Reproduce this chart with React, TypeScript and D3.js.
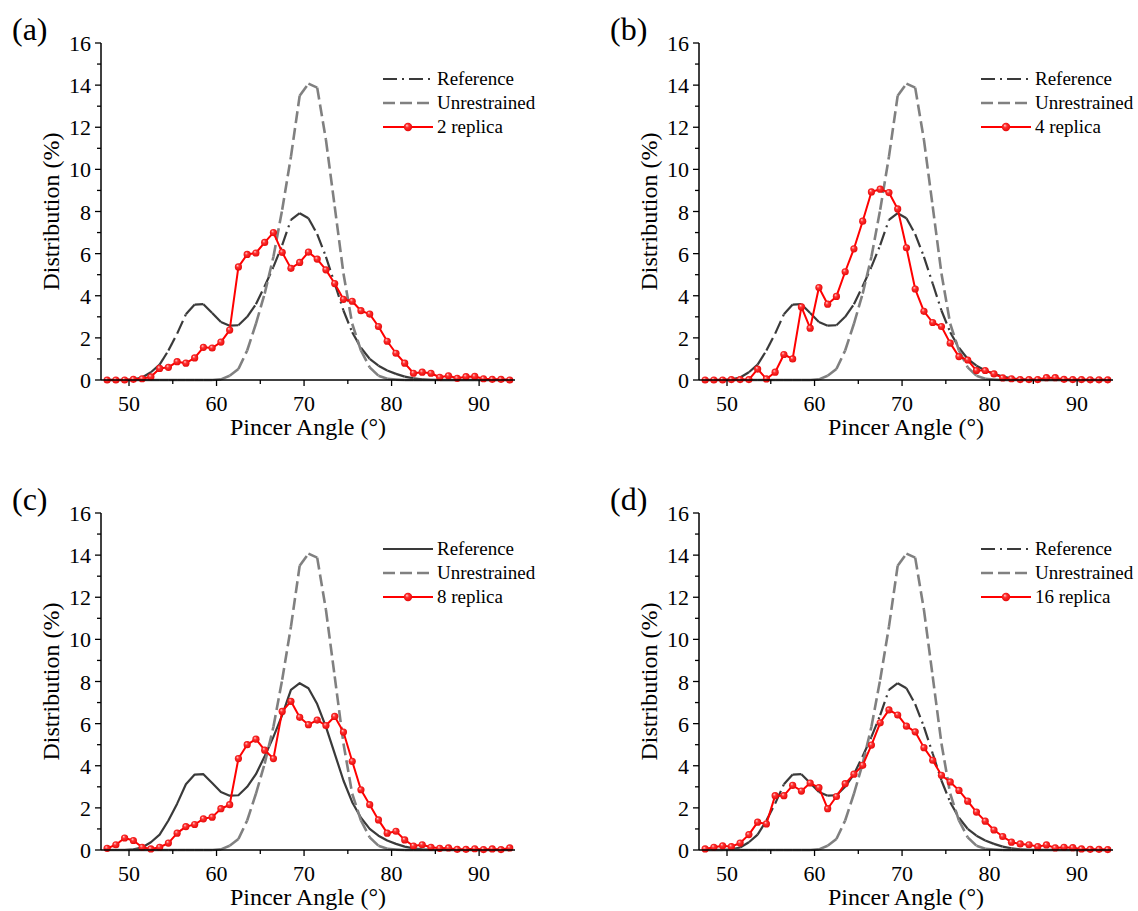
import React from 'react';
import * as d3 from 'd3';

// bin centres (degrees)
const angles = d3.range(47.5, 94, 1);

const reference = [
  0, 0, 0, 0.03, 0.12, 0.37, 0.73, 1.4, 2.2, 3.12, 3.58, 3.6, 3.18, 2.75, 2.58, 2.6,
  3.0, 3.6, 4.45, 5.37, 6.4, 7.6, 7.92, 7.68, 6.93, 5.85, 4.58, 3.3, 2.27, 1.53, 1.0,
  0.68, 0.45, 0.29, 0.16, 0.08, 0.03, 0.01, 0, 0, 0, 0, 0, 0, 0, 0, 0,
];

const unrestrained = [
  0, 0, 0, 0, 0, 0, 0, 0, 0, 0, 0, 0, 0, 0.03, 0.2, 0.52,
  1.4, 2.67, 4.1, 5.85, 8.08, 10.6, 13.5, 14.07, 13.88, 11.4, 8.24, 5.06, 2.67, 1.4, 0.6,
  0.2, 0.06, 0.02, 0, 0, 0, 0, 0, 0, 0, 0, 0, 0, 0, 0, 0,
];

const replica2 = [
  0, 0, 0, 0.03, 0.06, 0.15, 0.55, 0.6, 0.87, 0.8, 1.05, 1.55, 1.52, 1.8, 2.37, 5.37,
  5.96, 6.03, 6.53, 7.0, 6.06, 5.3, 5.58, 6.07, 5.74, 5.23, 4.58, 3.83, 3.74, 3.29, 3.13,
  2.54, 1.84, 1.27, 0.8, 0.32, 0.37, 0.32, 0.13, 0.2, 0.08, 0.16, 0.17, 0.06, 0.03, 0.03, 0,
];

const replica4 = [
  0, 0, 0, 0.02, 0.02, 0.02, 0.52, 0.05, 0.37, 1.21, 1.0, 3.47, 2.46, 4.39, 3.6, 3.97,
  5.14, 6.23, 7.54, 8.93, 9.06, 8.9, 8.12, 6.28, 4.32, 3.26, 2.73, 2.54, 1.75, 1.11, 0.95,
  0.45, 0.45, 0.29, 0.1, 0.06, 0.02, 0.02, 0.02, 0.11, 0.11, 0.03, 0.02, 0.02, 0.01, 0.01, 0.01,
];

const replica8 = [
  0.08, 0.25, 0.57, 0.45, 0.13, 0.05, 0.13, 0.33, 0.8, 1.11, 1.21, 1.48, 1.56, 1.96, 2.15, 4.34,
  5.0, 5.26, 4.74, 4.34, 6.58, 7.06, 6.3, 5.95, 6.17, 5.91, 6.34, 5.6, 4.21, 2.86, 2.15,
  1.43, 0.8, 0.89, 0.48, 0.19, 0.25, 0.13, 0.08, 0.1, 0.03, 0.03, 0.06, 0.02, 0.05, 0.02, 0.1,
];

const replica16 = [
  0.05, 0.13, 0.2, 0.16, 0.33, 0.73, 1.32, 1.24, 2.58, 2.58, 3.07, 2.8, 3.18, 2.96, 1.96, 2.54,
  3.15, 3.6, 4.02, 4.98, 6.04, 6.65, 6.41, 5.88, 5.61, 4.86, 4.26, 3.55, 3.23, 2.83, 2.32,
  1.8, 1.37, 0.95, 0.64, 0.37, 0.29, 0.25, 0.16, 0.24, 0.1, 0.13, 0.11, 0.05, 0.03, 0.03, 0.02,
];

const panelLabels = ['(a)', '(b)', '(c)', '(d)'];
const replicaNames = ['2 replica', '4 replica', '8 replica', '16 replica'];
const replicaSeries = [replica2, replica4, replica8, replica16];
const referenceSolid = [false, false, true, false];

const xTicks = [50, 60, 70, 80, 90];
const xMinor = [55, 65, 75, 85];
const yTicks = [0, 2, 4, 6, 8, 10, 12, 14, 16];
const yMinor = [1, 3, 5, 7, 9, 11, 13, 15];

const serif = { fontFamily: "'Liberation Serif', 'Times New Roman', Times, serif" };
const REF_COLOR = '#3a3a3a';
const UNR_COLOR = '#808080';
const RED = '#ff0000';

const panelOrigins = [
  { x: 101, y: 43 },
  { x: 699, y: 43 },
  { x: 101, y: 513 },
  { x: 699, y: 513 },
];
const plotW = 414;
const plotH = 337;

// Origin restarts the dash pattern at each vertex, so draw segment by segment
const Segments = ({ values, x, y, stroke, width, dash }: any) => (
  <g>
    {values.slice(1).map((v: number, i: number) => (
      <line
        key={i}
        x1={x(angles[i])}
        y1={y(values[i])}
        x2={x(angles[i + 1])}
        y2={y(v)}
        stroke={stroke}
        strokeWidth={width}
        strokeDasharray={dash}
        strokeLinecap="butt"
      />
    ))}
  </g>
);

const Panel = ({ idx }: { idx: number }) => {
  const o = panelOrigins[idx];
  const x = d3.scaleLinear().domain([46.8, 94.1]).range([0, plotW]);
  const y = d3.scaleLinear().domain([0, 16]).range([plotH, 0]);
  const series = replicaSeries[idx];
  const line = d3.line<number>().x((_, i) => x(angles[i])).y(d => y(d));
  const redLine = line(series) || '';
  const refPath = line(reference) || '';

  return (
    <g style={serif}>
      <text x={o.x - 89} y={o.y - 3} fontSize={32} fill="#000">
        {panelLabels[idx]}
      </text>
      <g transform={`translate(${o.x},${o.y})`}>
        {referenceSolid[idx] ? (
          <path d={refPath} fill="none" stroke={REF_COLOR} strokeWidth={2.2} strokeLinejoin="round" />
        ) : (
          <Segments values={reference} x={x} y={y} stroke={REF_COLOR} width={2.2} dash="14 5 2 5" />
        )}
        <Segments values={unrestrained} x={x} y={y} stroke={UNR_COLOR} width={2.6} dash="12 5" />
        <path d={redLine} fill="none" stroke={RED} strokeWidth={2} strokeLinejoin="round" />
        {series.map((v, i) => (
          <circle key={i} cx={x(angles[i])} cy={y(v)} r={3.6} fill="url(#ball)" />
        ))}

        {/* axes */}
        <line x1={0} y1={plotH} x2={plotW} y2={plotH} stroke="#000" strokeWidth={1.5} />
        <line x1={0} y1={0} x2={0} y2={plotH} stroke="#000" strokeWidth={1.5} />
        {xTicks.map(t => (
          <g key={t}>
            <line x1={x(t)} x2={x(t)} y1={plotH} y2={plotH + 6} stroke="#000" strokeWidth={1.3} />
            <text x={x(t)} y={plotH + 31} textAnchor="middle" fontSize={22}>{t}</text>
          </g>
        ))}
        {xMinor.map(t => (
          <line key={t} x1={x(t)} x2={x(t)} y1={plotH} y2={plotH + 4} stroke="#000" strokeWidth={1.3} />
        ))}
        {yTicks.map(t => (
          <g key={t}>
            <line x1={-6} x2={0} y1={y(t)} y2={y(t)} stroke="#000" strokeWidth={1.3} />
            <text x={-10} y={y(t) + 8} textAnchor="end" fontSize={22}>{t}</text>
          </g>
        ))}
        {yMinor.map(t => (
          <line key={t} x1={-4} x2={0} y1={y(t)} y2={y(t)} stroke="#000" strokeWidth={1.3} />
        ))}
        <text x={plotW / 2} y={plotH + 55} textAnchor="middle" fontSize={24}>
          Pincer Angle (°)
        </text>
        <text transform={`translate(-42, ${plotH / 2}) rotate(-90)`} textAnchor="middle" fontSize={24}>
          Distribution (%)
        </text>

        {/* legend */}
        <g transform="translate(282, 36)">
          {referenceSolid[idx] ? (
            <line x1={0} x2={50} y1={0} y2={0} stroke={REF_COLOR} strokeWidth={2.2} />
          ) : (
            <line x1={0} x2={50} y1={0} y2={0} stroke={REF_COLOR} strokeWidth={2.2} strokeDasharray="14 5 2 5" />
          )}
          <text x={54} y={6} fontSize={19}>Reference</text>
          <line x1={0} x2={50} y1={24} y2={24} stroke={UNR_COLOR} strokeWidth={2.6} strokeDasharray="12 5" />
          <text x={54} y={30} fontSize={19}>Unrestrained</text>
          <line x1={0} x2={50} y1={48} y2={48} stroke={RED} strokeWidth={2} />
          <circle cx={25} cy={48} r={4.2} fill="url(#ball)" />
          <text x={54} y={54} fontSize={19}>{replicaNames[idx]}</text>
        </g>
      </g>
    </g>
  );
};

export default function App() {
  return (
    <svg width={1138} height={911} style={{ position: 'absolute', left: 0, top: 0, background: '#fff' }}>
      <defs>
        <radialGradient id="ball" cx="0.5" cy="0.5" r="0.6" fx="0.35" fy="0.3">
          <stop offset="0" stopColor="#ffd0d0" />
          <stop offset="0.35" stopColor="#ff3030" />
          <stop offset="1" stopColor="#e00000" />
        </radialGradient>
      </defs>
      <rect width={1138} height={911} fill="#fff" />
      {[0, 1, 2, 3].map(i => (
        <Panel key={i} idx={i} />
      ))}
    </svg>
  );
}
